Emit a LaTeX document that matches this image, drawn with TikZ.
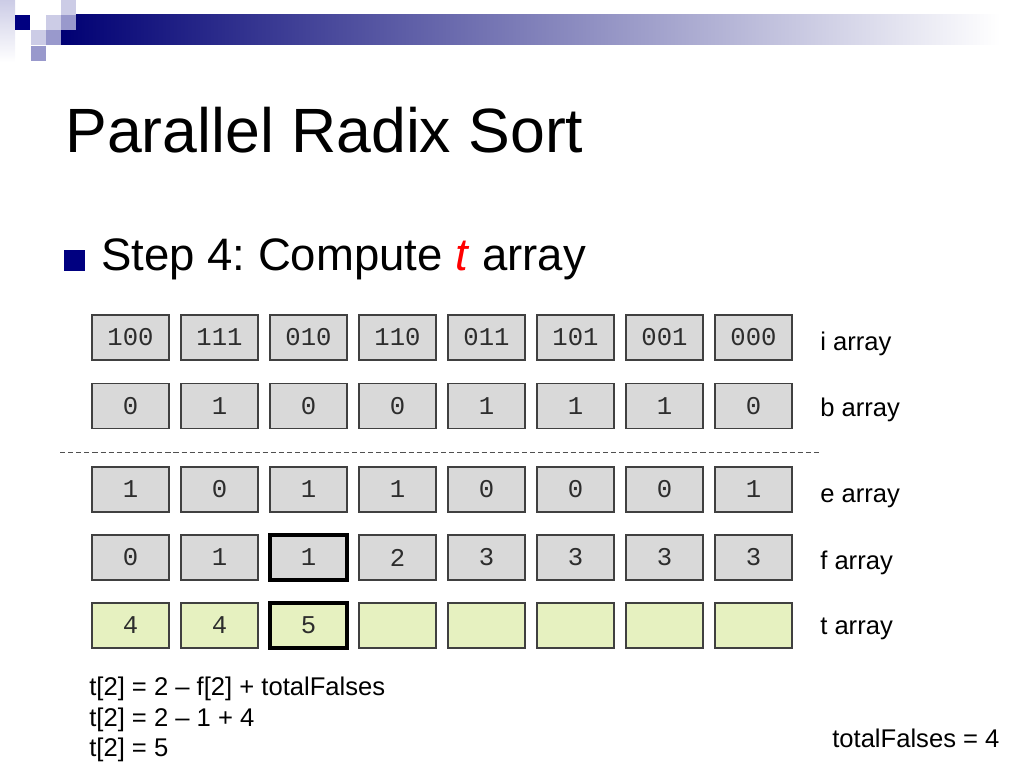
\documentclass[tikz,border=0pt]{standalone}
\usepackage{fontspec}
\setmainfont{Liberation Sans}
\newfontfamily\monofont{Liberation Mono}
\frenchspacing
\definecolor{navy}{RGB}{0,0,128}
\definecolor{lavlight}{RGB}{204,204,230}
\definecolor{lavmid}{RGB}{153,153,204}
\definecolor{barmid}{RGB}{145,145,178}
\definecolor{cellgray}{RGB}{217,217,217}
\definecolor{cellgreen}{RGB}{230,241,192}
\definecolor{boxline}{RGB}{64,64,64}
\definecolor{celltext}{RGB}{45,45,45}
\definecolor{dashcol}{RGB}{80,80,80}
\begin{document}
\begin{tikzpicture}[x=0.703125pt,y=-0.703125pt,
  cell/.style={draw=boxline, line width=0.8pt, fill=cellgray,
    minimum width=54.1pt, minimum height=31.6pt, inner sep=0pt,
    font=\monofont\fontsize{18}{20}\selectfont, text=celltext},
  cellhl/.style={cell, draw=black, line width=2.2pt},
  tcell/.style={cell, fill=cellgreen},
  tcellhl/.style={cellhl, fill=cellgreen},
  lbl/.style={anchor=base west, inner sep=0pt, font=\fontsize{18}{21.6}\selectfont},
  sepline/.style={draw=dashcol, line width=0.7pt, dash pattern=on 3.6pt off 2.1pt}]
\useasboundingbox (0,0) rectangle (1024,768);
% header decoration
\shade[top color=lavlight, bottom color=white] (0,0) rectangle (15,62);
\shade[left color=navy!90!black, middle color=barmid, right color=white] (61,15) rectangle (1000,45);
\fill[navy] (15,15) rectangle (30,30);
\fill[lavlight] (46,15) rectangle (61,30);
\fill[lavmid] (61,15) rectangle (76,30);
\fill[lavlight] (61,0) rectangle (76,15);
\fill[lavlight] (31,30) rectangle (46,45);
\fill[lavmid] (46,30) rectangle (61,45);
\fill[lavmid] (31,46) rectangle (46,61);
% title and bullet
\node[anchor=base west, inner sep=0pt, font=\fontsize{44}{52}\selectfont] (title) at (65,153) {Parallel Radix Sort};
\fill[navy] (64,250) rectangle (85,271);
\node[anchor=base west, inner sep=0pt, font=\fontsize{32}{38}\selectfont] (step) at (101,271) {Step 4: Compute \textcolor{red}{\textit{t}} array};
% i array
\foreach \v [count=\k from 0] in {100,111,010,110,011,101,001,000}
  \node[cell] (i\k) at ({130.5+89*\k},337.5) {\v};
% b array
\foreach \v [count=\k from 0] in {0,1,0,0,1,1,1,0}
  \node[cell] (b\k) at ({130.5+89*\k},406) {\v};
% separator
\coordinate (sepL) at (60,452);
\coordinate (sepR) at (820,452);
\draw[sepline] (sepL) -- (sepR);
% e array
\foreach \v [count=\k from 0] in {1,0,1,1,0,0,0,1}
  \node[cell] (e\k) at ({130.5+89*\k},489.5) {\v};
% f array
\foreach \v/\s [count=\k from 0] in {0/cell,1/cell,1/cellhl,2/cell,3/cell,3/cell,3/cell,3/cell}
  \node[\s] (f\k) at ({130.5+89*\k},557.5) {\v};
% t array
\foreach \v/\s [count=\k from 0] in {4/tcell,4/tcell,5/tcellhl}
  \node[\s] (t\k) at ({130.5+89*\k},625.5) {\v};
\foreach \k in {3,...,7}
  \node[tcell] (t\k) at ({130.5+89*\k},625.5) {};
% labels
\node[lbl] (li) at (820,350) {i array};
\node[lbl] (lb) at (820,416) {b array};
\node[lbl] (le) at (820,502) {e array};
\node[lbl] (lf) at (820,569) {f array};
\node[lbl] (lt) at (820,634) {t array};
% equations
\node[lbl] (eq1) at (89,695) {t[2] = 2 – f[2] + totalFalses};
\node[lbl] (eq2) at (89,726) {t[2] = 2 – 1 + 4};
\node[lbl] (eq3) at (89,756) {t[2] = 5};
\node[lbl] (tf) at (832,747) {totalFalses = 4};
\end{tikzpicture}
\end{document}
